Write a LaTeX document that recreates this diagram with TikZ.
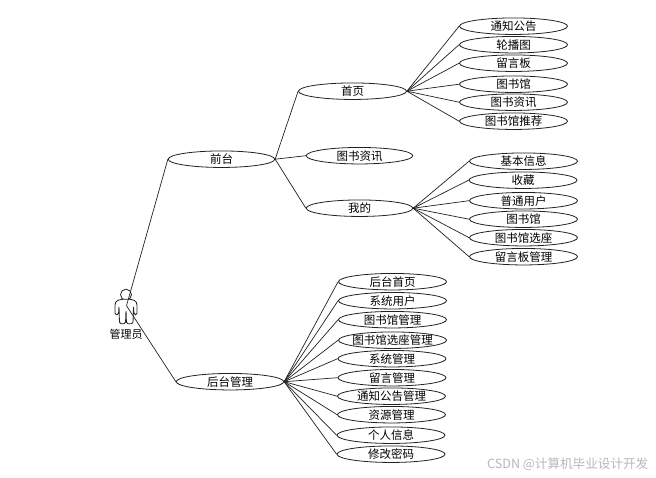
\documentclass[tikz,border=0pt]{standalone}
\usepackage{fontspec}
\setmainfont{Noto Sans CJK SC}
\usetikzlibrary{shapes.geometric}
\definecolor{ln}{HTML}{222222}
\newcommand{\ut}[1]{\makebox[0pt]{\raisebox{-0.38em}[0pt][0pt]{#1}}}
\tikzset{
  uc/.style={draw=ln,line width=0.8pt,ellipse,inner sep=0pt,minimum width=108pt,minimum height=16.5pt,font=\fontsize{11.5pt}{12pt}\selectfont,text=black},
  link/.style={draw=ln,line width=0.7pt},
  lbl/.style={inner sep=0pt,font=\fontsize{11pt}{12pt}\selectfont}
}
\begin{document}
\begin{tikzpicture}[x=1pt,y=-1pt]
\useasboundingbox (0,0) rectangle (656,477);
\fill[white] (0,0) rectangle (656,477);
\begin{scope}[yshift=-0.7pt]
% actor
\draw[ln,line width=0.8pt] (126,294) circle (5.5);
\draw[ln,line width=0.8pt,fill=white,rounded corners=1.5pt]
  (122,298.5) -- (116.5,300) -- (115,303) -- (115,314) -- (118.5,314) -- (119,305)
  -- (119.5,323) -- (125.5,323) -- (126,309) -- (126.5,323) -- (133,323) -- (133.5,305) -- (134,314) -- (137,314) -- (137,303) -- (135.5,300) -- (130,298.5) -- cycle;
\coordinate (actor) at (126.5,305);
\node[lbl] (actorlabel) at (126,334) {管理员};
% main
\node[uc,minimum width=106.5pt] (qt) at (221.5,158.5) {\ut{前台}};
\node[uc,minimum width=107.5pt] (ht) at (230,381) {\ut{后台管理}};
\node[uc] (sy) at (352.5,90.5) {\ut{首页}};
\node[uc,minimum width=106.5pt] (zx) at (359.5,155) {\ut{图书资讯}};
\node[uc,minimum width=106.5pt] (wd) at (359.5,207.5) {\ut{我的}};
% home children
\node[uc] (a1) at (513.5,25.5) {\ut{通知公告}};
\node[uc] (a2) at (513.5,44) {\ut{轮播图}};
\node[uc] (a3) at (513.5,62.5) {\ut{留言板}};
\node[uc] (a4) at (513.5,83.5) {\ut{图书馆}};
\node[uc] (a5) at (513.5,101.5) {\ut{图书资讯}};
\node[uc] (a6) at (513.5,120.5) {\ut{图书馆推荐}};
% mine children
\node[uc] (b1) at (523.5,160.5) {\ut{基本信息}};
\node[uc] (b2) at (523,179.5) {\ut{收藏}};
\node[uc] (b3) at (523.5,200) {\ut{普通用户}};
\node[uc] (b4) at (523.5,218.5) {\ut{图书馆}};
\node[uc] (b5) at (523.5,237) {\ut{图书馆选座}};
\node[uc] (b6) at (523.5,256) {\ut{留言板管理}};
% back children
\node[uc] (c1) at (392.5,281) {\ut{后台首页}};
\node[uc] (c2) at (392.5,300) {\ut{系统用户}};
\node[uc] (c3) at (392.5,319) {\ut{图书馆管理}};
\node[uc] (c4) at (392.5,339.5) {\ut{图书馆选座管理}};
\node[uc] (c5) at (392,358) {\ut{系统管理}};
\node[uc] (c6) at (392,377) {\ut{留言管理}};
\node[uc] (c7) at (391.5,395.5) {\ut{通知公告管理}};
\node[uc] (c8) at (391.5,414) {\ut{资源管理}};
\node[uc] (c9) at (391,434.5) {\ut{个人信息}};
\node[uc] (c10) at (391,453.5) {\ut{修改密码}};
% connectors
\draw[link] (actor) -- (qt.west);
\draw[link] (actor) -- (ht.west);
\draw[link] (qt.east) -- (sy.west);
\draw[link] (qt.east) -- (zx.west);
\draw[link] (qt.east) -- (wd.west);
\foreach \n in {a1,a2,a3,a4,a5,a6} \draw[link] (sy.east) -- (\n.west);
\foreach \n in {b1,b2,b3,b4,b5,b6} \draw[link] (wd.east) -- (\n.west);
\foreach \n in {c1,c2,c3,c4,c5,c6,c7,c8,c9,c10} \draw[link] (ht.east) -- (\n.west);
% watermark
\node[inner sep=0pt,anchor=east,text=black!28,font=\fontsize{12.6pt}{14pt}\selectfont] (wm) at (648.5,463.5) {CSDN @计算机毕业设计开发};
\end{scope}
\end{tikzpicture}
\end{document}
